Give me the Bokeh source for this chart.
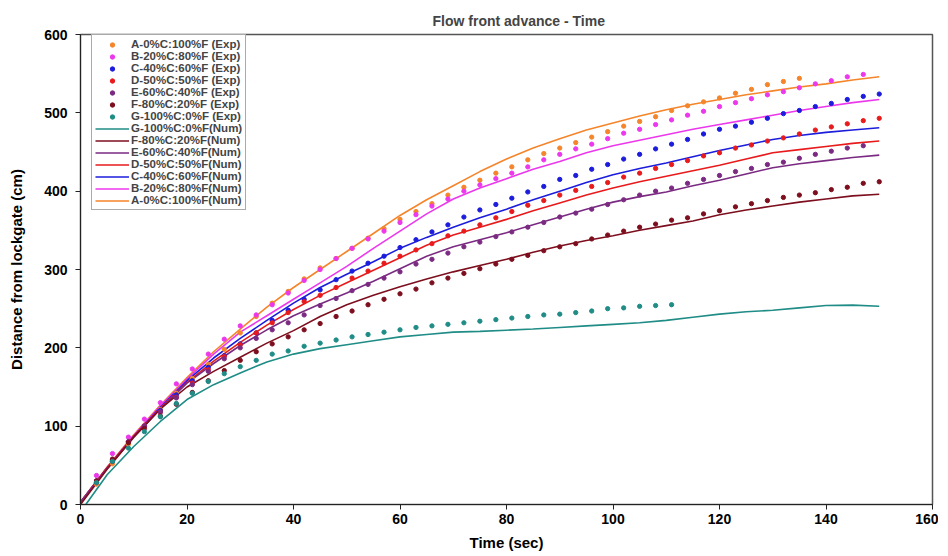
from bokeh.plotting import figure
from bokeh.models import Legend, LegendItem, Range1d, FixedTicker
from bokeh.embed import file_html
from bokeh.resources import INLINE

# ---- Experimental data (every 3 s) ----
t_exp = [3, 6, 9, 12, 15, 18, 21, 24, 27, 30, 33, 36, 39, 42, 45, 48, 51, 54, 57, 60,
         63, 66, 69, 72, 75, 78, 81, 84, 87, 90, 93, 96, 99, 102, 105, 108, 111, 114, 117, 120,
         123, 126, 129, 132, 135, 138, 141, 144, 147, 150]

a_exp = [26, 52, 77, 100, 121, 142, 161, 179, 198, 219, 240, 257, 272, 288, 302, 314, 327, 340, 352, 364,
         374, 384, 395, 405, 414, 423, 431, 440, 448, 455, 462, 469, 476, 483, 489, 495, 503, 509, 514, 519,
         525, 530, 536, 540, 544]
b_exp = [37, 65, 86, 109, 130, 154, 173, 192, 211, 228, 242, 255, 270, 286, 300, 314, 327, 339, 349, 360,
         370, 381, 390, 400, 408, 416, 423, 431, 440, 447, 454, 460, 467, 474, 479, 485, 491, 497, 502, 508,
         513, 518, 523, 527, 532, 537, 541, 546, 549]
c_exp = [28, 55, 80, 100, 120, 140, 158, 175, 190, 205, 219, 235, 248, 262, 274, 287, 298, 308, 317, 328,
         338, 348, 357, 367, 376, 383, 391, 399, 406, 415, 420, 428, 434, 441, 447, 454, 460, 466, 473, 479,
         483, 488, 493, 499, 503, 508, 512, 517, 521, 524]
d_exp = [30, 57, 80, 100, 118, 137, 155, 172, 189, 204, 219, 232, 245, 259, 267, 277, 289, 298, 308, 317,
         325, 333, 343, 349, 357, 366, 374, 382, 388, 395, 401, 406, 411, 418, 423, 429, 434, 439, 445, 449,
         455, 459, 464, 468, 473, 478, 482, 486, 490, 493]
e_exp = [30, 56, 80, 100, 118, 136, 153, 170, 186, 200, 212, 223, 232, 242, 254, 263, 273, 281, 289, 297,
         307, 313, 321, 329, 335, 342, 348, 354, 360, 367, 372, 377, 383, 389, 395, 400, 404, 410, 415, 420,
         425, 429, 434, 437, 442, 447, 451, 455, 458]
f_exp = [30, 58, 79, 97, 113, 128, 143, 158, 171, 184, 195, 205, 214, 223, 231, 240, 247, 255, 262, 269,
         275, 283, 289, 295, 301, 307, 313, 318, 324, 329, 333, 339, 344, 349, 354, 358, 363, 366, 371, 375,
         380, 384, 388, 392, 395, 398, 402, 405, 410, 412]
g_exp = [28, 55, 72, 93, 112, 129, 142, 157, 167, 176, 184, 192, 196, 202, 206, 210, 214, 217, 220, 223,
         226, 228, 230, 232, 234, 236, 238, 240, 242, 243, 245, 247, 250, 251, 253, 254, 255]

# ---- Numerical data ----
t_num = [0, 5, 10, 15, 20, 25, 30, 35, 40, 45, 50, 55, 60, 65, 70, 75, 80, 85, 90, 95,
         100, 105, 110, 115, 120, 125, 130, 135, 140, 145, 150]
t_num_g = [1, 5, 10, 15, 20, 25, 30, 35, 40, 45, 50, 55, 60, 65, 70, 75, 80, 85, 90, 95,
           100, 105, 110, 115, 120, 125, 130, 135, 140, 145, 150]

a_num = [3, 48, 89, 127, 162, 195, 224, 252, 277, 300, 323, 346, 369, 389, 407, 425, 441, 455, 467, 478,
         487, 496, 504, 511, 517, 523, 528, 533, 537, 542, 546]
b_num = [2, 47, 88, 126, 160, 192, 220, 241, 262, 283, 304, 327, 349, 371, 390, 404, 416, 428, 438, 449,
         458, 465, 472, 479, 485, 491, 497, 503, 508, 513, 517]
c_num = [3, 47, 87, 124, 158, 187, 212, 235, 257, 277, 294, 310, 327, 341, 354, 366, 377, 389, 400, 411,
         421, 429, 436, 444, 452, 459, 466, 471, 475, 478, 481]
d_num = [3, 47, 87, 123, 156, 183, 207, 229, 249, 267, 283, 299, 315, 331, 344, 354, 364, 375, 385, 395,
         404, 412, 419, 426, 433, 441, 449, 453, 457, 461, 464]
e_num = [3, 46, 86, 122, 155, 180, 203, 223, 241, 256, 270, 285, 301, 317, 329, 338, 347, 357, 367, 377,
         386, 393, 399, 407, 414, 422, 430, 435, 439, 443, 446]
f_num = [0, 45, 86, 122, 150, 170, 188, 206, 222, 240, 255, 267, 278, 288, 297, 305, 313, 322, 330, 337,
         343, 350, 356, 362, 370, 376, 381, 386, 390, 394, 396]
g_num = [0, 38, 74, 106, 134, 153, 168, 182, 192, 199, 204, 209, 214, 217, 220, 221, 222.5, 224, 226, 228,
         230, 232, 235, 239, 243, 246, 248, 251, 254, 254.5, 253]

exp_labels = ["A-0%C:100%F (Exp)", "B-20%C:80%F (Exp)", "C-40%C:60%F (Exp)", "D-50%C:50%F (Exp)",
              "E-60%C:40%F (Exp)", "F-80%C:20%F (Exp)", "G-100%C:0%F (Exp)"]
num_labels = ["A-0%C:100%F(Num)", "B-20%C:80%F(Num)", "C-40%C:60%F(Num)", "D-50%C:50%F(Num)",
              "E-60%C:40%F(Num)", "F-80%C:20%F(Num)", "G-100%C:0%F(Num)"]
colors = ["#F5852A", "#EC38EC", "#1C1CDC", "#E81A1C", "#7B2A82", "#7D0E1E", "#1F8C86"]

x_ticks = [0, 20, 40, 60, 80, 100, 120, 140, 160]
y_ticks = [0, 100, 200, 300, 400, 500, 600]

FONT = "Liberation Sans"

p = figure(width=938, height=553, output_backend="svg", toolbar_location=None,
           x_range=Range1d(0, 160), y_range=Range1d(0, 600),
           min_border_left=80, min_border_right=6, min_border_top=34, min_border_bottom=48)

p.title.text = "Flow front advance - Time"
p.title.text_font = FONT
p.title.text_font_size = "14px"
p.title.text_font_style = "bold"
p.title.align = "left"
p.title.offset = 352
p.title.standoff = 12

p.grid.visible = False
p.outline_line_color = "#555555"
p.outline_line_width = 1.5

for ax, ticks in ((p.xaxis[0], x_ticks), (p.yaxis[0], y_ticks)):
    ax.ticker = FixedTicker(ticks=ticks)
    ax.minor_tick_line_color = None
    ax.major_tick_in = 0
    ax.major_tick_out = 5
    ax.axis_line_color = "#222222"
    ax.major_tick_line_color = "#222222"
    ax.major_label_text_font = FONT
    ax.major_label_text_font_style = "bold"
    ax.major_label_text_font_size = "14px"
    ax.major_label_text_color = "black"
    ax.axis_label_text_font = FONT
    ax.axis_label_text_font_style = "bold"
    ax.axis_label_text_font_size = "15px"
    ax.axis_label_text_color = "black"

p.xaxis.axis_label = "Time (sec)"
p.xaxis.major_label_standoff = 4
p.xaxis.axis_label_standoff = 7
p.yaxis.axis_label = "Distance from lockgate (cm)"
p.yaxis.major_label_standoff = 8
p.yaxis.axis_label_standoff = 16

exp_series = [a_exp, b_exp, c_exp, d_exp, e_exp, f_exp, g_exp]
num_series = [a_num, b_num, c_num, d_num, e_num, f_num, g_num]

num_renderers = []
for i, ys in enumerate(num_series):
    ts = t_num_g if i == 6 else t_num
    r = p.line(ts, ys, line_color=colors[i], line_width=1.6)
    num_renderers.append(r)

exp_renderers = []
for i, ys in enumerate(exp_series):
    r = p.scatter(t_exp[:len(ys)], ys, marker="circle", size=4.3,
                  fill_color=colors[i], line_color=colors[i])
    exp_renderers.append(r)

items = []
for i in range(7):
    items.append(LegendItem(label=exp_labels[i], renderers=[exp_renderers[i]]))
for i in reversed(range(7)):
    items.append(LegendItem(label=num_labels[i], renderers=[num_renderers[i]]))

legend = Legend(items=items, location=(11, 294), margin=0, padding=3, spacing=0,
                glyph_width=34, glyph_height=11, label_height=11, label_standoff=2,
                label_text_font=FONT, label_text_font_style="bold", label_text_font_size="11.5px",
                border_line_color="#555555", border_line_width=1.2,
                background_fill_color="white", background_fill_alpha=1)
p.add_layout(legend)

open("out.html", "w").write(file_html(p, INLINE))
